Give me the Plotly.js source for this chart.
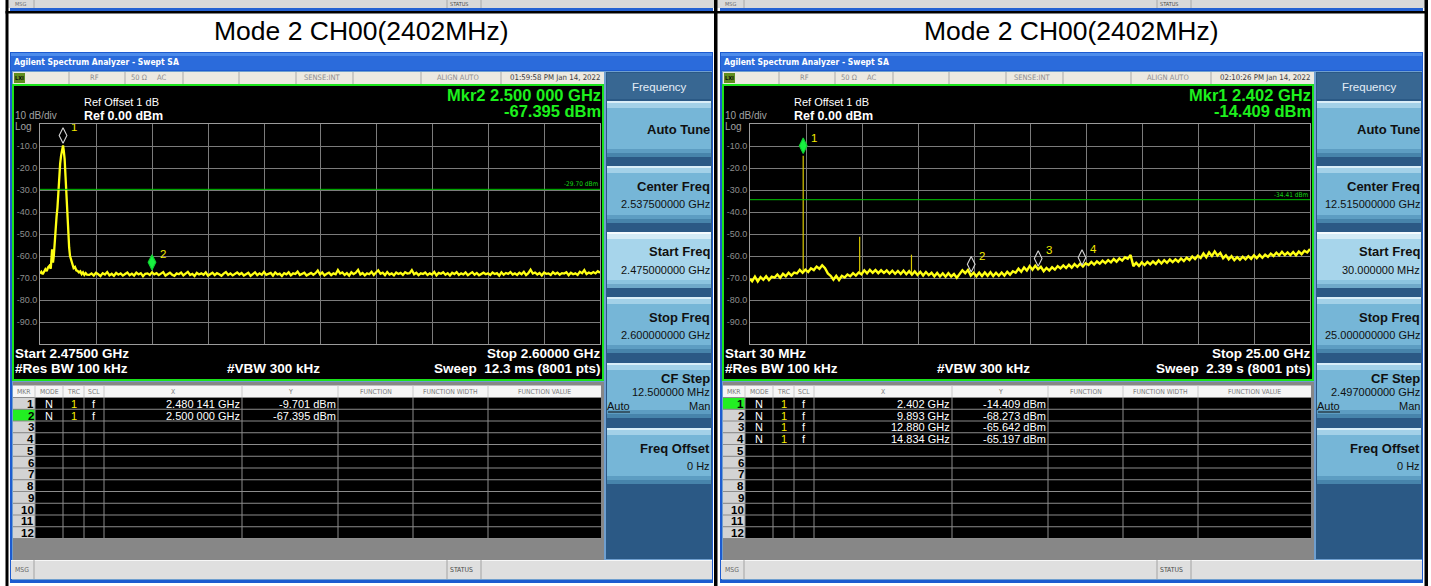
<!DOCTYPE html>
<html>
<head>
<meta charset="utf-8">
<script src="https://cdn.plot.ly/plotly-3.0.1.min.js"></script>
<style>
html,body{margin:0;padding:0;background:#ffffff;overflow:hidden;}
#chart{width:1431px;height:586px;}
</style>
</head>
<body>
<div id="chart"></div>
<script>
// ================= DATA =================
const panelTitles = ['Mode 2 CH00(2402MHz)', 'Mode 2 CH00(2402MHz)'];
const yTickValues = [-10, -20, -30, -40, -50, -60, -70, -80, -90];
const yTickLabels = ['-10.0', '-20.0', '-30.0', '-40.0', '-50.0', '-60.0', '-70.0', '-80.0', '-90.0'];
const refLevelDbm = 0, bottomLevelDbm = -100;

const leftStartGHz = 2.475, leftStopGHz = 2.600;
const rightStartGHz = 0.03, rightStopGHz = 25.0;

// Left sweep: carrier region
const leftPeakFreqGHz = [
2.475,2.4753,2.4756,2.4759,2.4762,2.4765,2.4768,2.4771,2.4774,2.4777,
2.4779,2.4781,2.4783,2.4785,2.4787,2.4789,2.4791,2.4793,2.4795,2.4797,
2.4799,2.480141,2.4803,2.4805,2.4807,2.4809,2.4811,2.4813,2.4815,2.4817,
2.4819,2.4821,2.4823,2.4825,2.4828,2.4831,2.4834,2.4837,2.484,2.4843,
2.4846,2.4849,2.4852,2.4855];
const leftPeakLevelDbm = [
-68.0,-67.2,-68.3,-66.8,-66.0,-66.9,-65.2,-64.5,-65.8,-57.0,
-63.0,-59.5,-52.0,-46.0,-42.0,-38.0,-30.0,-22.0,-18.0,-14.5,
-11.5,-9.701,-12.0,-16.0,-24.0,-33.0,-42.0,-50.0,-56.0,-60.0,
-61.5,-63.5,-64.0,-65.5,-65.0,-66.5,-66.8,-67.5,-67.0,-68.2,
-67.4,-68.6,-67.8,-68.5];
// Left sweep: noise floor
const leftFloorFreqGHz = [
2.486,2.4865,2.487,2.4875,2.488,2.4885,2.489,2.4895,2.49,2.4905,
2.491,2.4915,2.492,2.4925,2.493,2.4935,2.494,2.4945,2.495,2.4955,
2.496,2.4965,2.497,2.4975,2.498,2.4985,2.499,2.4995,2.5,2.5005,
2.501,2.5015,2.502,2.5025,2.503,2.5035,2.504,2.5045,2.505,2.5055,
2.506,2.5065,2.507,2.5075,2.508,2.5085,2.509,2.5095,2.51,2.5105,
2.511,2.5115,2.512,2.5125,2.513,2.5135,2.514,2.5145,2.515,2.5155,
2.516,2.5165,2.517,2.5175,2.518,2.5185,2.519,2.5195,2.52,2.5205,
2.521,2.5215,2.522,2.5225,2.523,2.5235,2.524,2.5245,2.525,2.5255,
2.526,2.5265,2.527,2.5275,2.528,2.5285,2.529,2.5295,2.53,2.5305,
2.531,2.5315,2.532,2.5325,2.533,2.5335,2.534,2.5345,2.535,2.5355,
2.536,2.5365,2.537,2.5375,2.538,2.5385,2.539,2.5395,2.54,2.5405,
2.541,2.5415,2.542,2.5425,2.543,2.5435,2.544,2.5445,2.545,2.5455,
2.546,2.5465,2.547,2.5475,2.548,2.5485,2.549,2.5495,2.55,2.5505,
2.551,2.5515,2.552,2.5525,2.553,2.5535,2.554,2.5545,2.555,2.5555,
2.556,2.5565,2.557,2.5575,2.558,2.5585,2.559,2.5595,2.56,2.5605,
2.561,2.5615,2.562,2.5625,2.563,2.5635,2.564,2.5645,2.565,2.5655,
2.566,2.5665,2.567,2.5675,2.568,2.5685,2.569,2.5695,2.57,2.5705,
2.571,2.5715,2.572,2.5725,2.573,2.5735,2.574,2.5745,2.575,2.5755,
2.576,2.5765,2.577,2.5775,2.578,2.5785,2.579,2.5795,2.58,2.5805,
2.581,2.5815,2.582,2.5825,2.583,2.5835,2.584,2.5845,2.585,2.5855,
2.586,2.5865,2.587,2.5875,2.588,2.5885,2.589,2.5895,2.59,2.5905,
2.591,2.5915,2.592,2.5925,2.593,2.5935,2.594,2.5945,2.595,2.5955,
2.596,2.5965,2.597,2.5975,2.598,2.5985,2.599,2.5995,2.6];
const leftFloorLevelDbm = [
-68.6,-67.9,-68.9,-67.6,-68.3,-69.1,-67.8,-68.4,-67.3,-68.8,
-68.1,-69.0,-67.7,-68.5,-67.9,-68.9,-68.2,-67.5,-68.7,-68.0,
-68.9,-67.6,-68.4,-67.8,-69.2,-68.1,-67.9,-68.6,-67.4,-68.3,
-67.8,-68.7,-68.0,-67.3,-68.9,-68.2,-67.6,-68.5,-69.0,-67.9,
-68.3,-67.5,-68.8,-68.0,-67.2,-68.6,-68.1,-69.1,-67.7,-68.4,
-67.9,-68.5,-67.4,-68.9,-68.2,-67.6,-68.7,-67.8,-68.3,-69.0,
-68.0,-67.3,-68.6,-67.9,-68.8,-68.2,-67.5,-68.4,-67.7,-68.9,
-68.1,-67.6,-69.0,-68.3,-67.4,-68.7,-67.9,-68.5,-67.2,-68.6,
-68.2,-67.7,-68.9,-67.5,-68.4,-68.0,-69.1,-67.8,-68.3,-67.4,
-68.8,-67.9,-68.2,-67.1,-68.6,-68.0,-67.6,-68.9,-68.3,-67.7,
-68.5,-67.8,-66.6,-68.4,-67.5,-68.8,-68.1,-67.6,-68.7,-67.9,
-68.3,-66.4,-68.0,-67.5,-68.6,-67.8,-68.9,-67.4,-68.2,-67.6,
-66.3,-68.4,-67.7,-68.8,-67.9,-68.3,-67.2,-68.6,-67.5,-66.5,
-68.1,-67.6,-68.7,-67.3,-68.4,-67.9,-68.8,-67.5,-68.2,-67.7,
-68.6,-67.4,-68.0,-67.8,-66.4,-68.3,-67.6,-68.7,-67.9,-68.2,
-67.5,-68.6,-67.9,-68.4,-67.2,-68.8,-67.7,-68.1,-67.4,-68.5,
-67.8,-68.9,-67.6,-68.2,-67.3,-68.6,-67.9,-68.4,-67.5,-68.7,
-68.0,-67.4,-68.5,-67.7,-68.8,-68.1,-67.6,-68.3,-67.9,-68.6,
-67.5,-68.2,-67.8,-68.9,-67.4,-68.5,-67.7,-68.1,-67.3,-68.4,
-67.9,-68.6,-67.6,-68.3,-67.2,-68.7,-67.8,-66.2,-68.0,-67.5,
-68.4,-67.7,-68.8,-67.5,-68.1,-67.9,-68.6,-67.3,-68.2,-67.6,
-68.5,-67.8,-68.0,-67.4,-68.7,-67.6,-68.3,-67.9,-68.6,-67.2,
-67.8,-66.4,-68.2,-67.5,-68.0,-67.3,-67.9,-66.9,-67.6];

// Right sweep (30 MHz - 25 GHz) noise floor
const rightFreqGHz = [
0.03,0.125,0.25,0.375,0.5,0.625,0.75,0.875,1,
1.125,1.25,1.375,1.5,1.625,1.75,1.875,2,
2.125,2.25,2.375,2.5,2.625,2.75,2.875,3,
3.125,3.25,3.375,3.5,3.625,3.75,3.875,4,
4.125,4.25,4.375,4.5,4.625,4.75,4.875,5,
5.125,5.25,5.375,5.5,5.625,5.75,5.875,6,
6.125,6.25,6.375,6.5,6.625,6.75,6.875,7,
7.125,7.25,7.375,7.5,7.625,7.75,7.875,8,
8.125,8.25,8.375,8.5,8.625,8.75,8.875,9,
9.125,9.25,9.375,9.5,9.625,9.75,9.875,10,
10.125,10.25,10.375,10.5,10.625,10.75,10.875,11,
11.125,11.25,11.375,11.5,11.625,11.75,11.875,12,
12.125,12.25,12.375,12.5,12.625,12.75,12.875,13,
13.125,13.25,13.375,13.5,13.625,13.75,13.875,14,
14.125,14.25,14.375,14.5,14.625,14.75,14.875,15,
15.125,15.25,15.375,15.5,15.625,15.75,15.875,16,
16.125,16.25,16.375,16.5,16.625,16.75,16.875,17,
17.125,17.25,17.375,17.5,17.625,17.75,17.875,18,
18.125,18.25,18.375,18.5,18.625,18.75,18.875,19,
19.125,19.25,19.375,19.5,19.625,19.75,19.875,20,
20.125,20.25,20.375,20.5,20.625,20.75,20.875,21,
21.125,21.25,21.375,21.5,21.625,21.75,21.875,22,
22.125,22.25,22.375,22.5,22.625,22.75,22.875,23,
23.125,23.25,23.375,23.5,23.625,23.75,23.875,24,
24.125,24.25,24.375,24.5,24.625,24.75,24.875,25];
const rightLevelDbm = [
-70.4,-71.5,-69.4,-71.6,-69.6,-70.8,-69.2,-70.9,-69.4,
-69.8,-68.4,-69.9,-68.1,-69.2,-67.6,-68.9,-67.5,
-67.9,-66.3,-67.6,-66.2,-67.3,-65.6,-66.4,-64.8,
-65.8,-64.2,-65.5,-67.9,-69.0,-70.8,-69.0,-70.9,
-69.0,-69.8,-68.4,-69.2,-67.8,-68.9,-67.5,-68.3,
-66.5,-67.9,-66.3,-67.6,-66.4,-67.8,-66.5,-67.7,
-66.6,-68.0,-66.7,-68.1,-66.8,-68.2,-66.7,-68.3,
-66.9,-68.5,-67.0,-68.6,-67.2,-68.9,-67.3,-68.7,
-67.6,-69.2,-67.7,-69.3,-67.9,-69.4,-67.8,-69.3,
-68.2,-69.9,-68.4,-66.5,-67.8,-66.3,-68.9,-67.6,
-69.2,-67.6,-69.1,-67.5,-69.0,-67.4,-69.1,-67.6,
-69.0,-67.5,-68.9,-67.2,-68.5,-66.9,-67.6,-65.8,
-67.2,-65.2,-66.6,-64.6,-66.2,-64.4,-66.0,-64.9,
-66.9,-65.4,-66.6,-65.1,-66.2,-64.6,-65.6,-64.3,
-65.5,-64.0,-65.3,-63.7,-64.9,-63.5,-64.8,-63.3,
-64.1,-62.7,-63.9,-62.5,-63.5,-62.1,-63.2,-61.9,
-62.9,-61.4,-62.6,-61.1,-62.1,-60.6,-61.2,-59.6,
-64.6,-63.1,-64.5,-62.9,-64.1,-62.7,-63.8,-62.5,
-63.6,-62.0,-63.4,-61.9,-63.1,-61.6,-62.8,-61.5,
-62.6,-61.1,-62.3,-60.8,-61.8,-60.2,-61.4,-59.9,
-60.9,-58.8,-60.6,-58.4,-60.0,-57.9,-59.8,-58.6,
-61.0,-59.7,-61.5,-60.1,-61.9,-60.5,-61.7,-60.3,
-61.5,-60.1,-61.3,-59.7,-61.0,-59.5,-60.8,-59.4,
-60.4,-58.9,-60.0,-58.5,-59.7,-58.1,-59.6,-58.4,
-59.6,-58.2,-59.7,-58.0,-59.2,-57.6,-58.4,-56.8];
// Right sweep: narrow spurs (single-bin lines)
const rightSpurFreqGHz = [2.402, 4.920, 7.230];
const rightSpurTopDbm = [-14.409, -51.2, -59.4];
const rightSpurFootDbm = [-66.8, -67.9, -67.8];

const leftMarkerFreqGHz = [2.480141, 2.500000];
const leftMarkerLevelDbm = [-9.701, -67.395];
const leftMarkerXText = ['2.480 141 GHz', '2.500 000 GHz'];
const leftMarkerYText = ['-9.701 dBm', '-67.395 dBm'];
const rightMarkerFreqGHz = [2.402, 9.893, 12.880, 14.834];
const rightMarkerLevelDbm = [-14.409, -68.273, -65.642, -65.197];
const rightMarkerXText = ['2.402 GHz', '9.893 GHz', '12.880 GHz', '14.834 GHz'];
const rightMarkerYText = ['-14.409 dBm', '-68.273 dBm', '-65.642 dBm', '-65.197 dBm'];

const leftDisplayLineDbm = -29.70, rightDisplayLineDbm = -34.41;
const leftDisplayLineText = '-29.70 dBm', rightDisplayLineText = '-34.41 dBm';

const softkeyLabels = ['Auto Tune', 'Center Freq', 'Start Freq', 'Stop Freq', 'CF Step', 'Freq Offset'];
const leftSoftkeyValues = ['', '2.537500000 GHz', '2.475000000 GHz', '2.600000000 GHz', '12.500000 MHz', '0 Hz'];
const rightSoftkeyValues = ['', '12.515000000 GHz', '30.000000 MHz', '25.000000000 GHz', '2.497000000 GHz', '0 Hz'];
const tableHeaders = ['MKR', 'MODE', 'TRC', 'SCL', 'X', 'Y', 'FUNCTION', 'FUNCTION WIDTH', 'FUNCTION VALUE'];

const windowsCfg = [
  { ox: 0, title: panelTitles[0], time: '01:59:58 PM Jan 14, 2022',
    mkr1: 'Mkr2 2.500 000 GHz', mkr2: '-67.395 dBm',
    start: 'Start 2.47500 GHz', stop: 'Stop 2.60000 GHz', sweep: 'Sweep  12.3 ms (8001 pts)',
    mx: leftMarkerXText, my: leftMarkerYText, active: 2, soft: leftSoftkeyValues },
  { ox: 710, title: panelTitles[1], time: '02:10:26 PM Jan 14, 2022',
    mkr1: 'Mkr1 2.402 GHz', mkr2: '-14.409 dBm',
    start: 'Start 30 MHz', stop: 'Stop 25.00 GHz', sweep: 'Sweep  2.39 s (8001 pts)',
    mx: rightMarkerXText, my: rightMarkerYText, active: 1, soft: rightSoftkeyValues }
];

// ================= DRAWING HELPERS =================
const W = 1431, H = 586;
const FONT = '"Liberation Sans", Arial, Helvetica, sans-serif';
const NARROW = '"DejaVu Sans Condensed", "Liberation Sans Narrow", "Liberation Sans", Arial, sans-serif';
const shapes = [], annotations = [];
const fx = x => x / W, fy = y => 1 - y / H;

function rect(x0, y0, x1, y1, fill, lineColor, lineWidth) {
  shapes.push({type: 'rect', xref: 'paper', yref: 'paper', layer: 'below',
    x0: fx(x0), x1: fx(x1), y0: fy(y1), y1: fy(y0),
    fillcolor: fill || 'rgba(0,0,0,0)',
    line: {color: lineColor || 'rgba(0,0,0,0)', width: lineWidth || 0}});
}
function seg(x0, y0, x1, y1, color, width) {
  shapes.push({type: 'line', xref: 'paper', yref: 'paper', layer: 'below',
    x0: fx(x0), x1: fx(x1), y0: fy(y0), y1: fy(y1), line: {color: color, width: width || 1}});
}
function txt(x, y, text, o) {
  o = o || {};
  annotations.push({xref: 'paper', yref: 'paper', x: fx(x), y: fy(y), text: text, showarrow: false,
    xanchor: o.anchor || 'left', yanchor: 'middle', borderpad: 0, borderwidth: 0,
    font: {family: o.family || FONT, size: o.size || 11, color: o.color || '#000000'}});
}

// ---- top strip: bottom of the previous screenshots ----
rect(8, 0, 1425, 8, '#d9d9d9');
[[10, 713], [720, 1423]].forEach(([a, b]) => {
  seg(a + 24, 0, a + 24, 8, '#a8a8a8', 1);
  seg(a + 437, 0, a + 437, 8, '#a8a8a8', 1);
  seg(a + 471, 0, a + 471, 8, '#a8a8a8', 1);
  txt(a + 5, 4, 'MSG', {size: 5.5, color: '#6a6a6a', family: NARROW});
  txt(a + 440, 4, 'STATUS', {size: 5.5, color: '#4a4a4a', family: NARROW});
  rect(a, 8, b, 11, '#2461d2');
});

function button(x0, y0, x1, y1, sel) {
  rect(x0, y0, x1, y1, sel ? '#a7d5eb' : '#76b6d7');
  rect(x0, y0, x1, y0 + 2, sel ? '#f4fbfe' : '#d9eef8');
  rect(x0, y0 + 2, x1, y0 + 7, sel ? '#d3ebf6' : '#a3d1e8');
  rect(x0, y1 - 8, x1, y1 - 4, sel ? '#8cc4df' : '#5d9dc2');
  rect(x0, y1 - 4, x1, y1, sel ? '#6fa9c9' : '#4784ab');
}

function drawWindow(w) {
  const X = v => v + w.ox;
  txt(X(361), 31, w.title, {anchor: 'center', size: 26.5, color: '#000000'});
  // window frame + title bar
  rect(X(10), 52, X(713), 583, '#1d5bcf');
  rect(X(11), 53, X(712), 70, '#2b6bdb');
  rect(X(11), 53, X(712), 56, '#4d8ceb');
  txt(X(14), 62, '<b>Agilent Spectrum Analyzer - Swept SA</b>', {size: 8.5, color: '#ffffff', family: NARROW});
  rect(X(12), 71, X(712), 580, '#6f9fcf');
  // status row
  rect(X(13), 72, X(604), 84, '#ece9e1');
  [69, 125, 183, 239, 296, 353, 421, 501].forEach(d => seg(X(d), 72, X(d), 84, '#a9a9a9', 1));
  rect(X(14), 73, X(25), 83, '#5f8d1f');
  txt(X(19.5), 78, '<b>LXI</b>', {anchor: 'center', size: 5.5, color: '#0d0d0d', family: NARROW});
  txt(X(94), 78, 'RF', {anchor: 'center', size: 7.5, color: '#8d8d8d', family: NARROW});
  txt(X(139), 78, '50 Ω', {anchor: 'center', size: 7.5, color: '#8d8d8d', family: NARROW});
  txt(X(161), 78, 'AC', {anchor: 'center', size: 7.5, color: '#8d8d8d', family: NARROW});
  txt(X(322), 78, 'SENSE:INT', {anchor: 'center', size: 7.5, color: '#8d8d8d', family: NARROW});
  txt(X(458), 78, 'ALIGN AUTO', {anchor: 'center', size: 7.5, color: '#8d8d8d', family: NARROW});
  txt(X(601), 78, w.time, {anchor: 'right', size: 7.8, color: '#3c3c3c', family: NARROW});
  // measurement display area
  rect(X(13), 85, X(603), 380, '#000000', '#1be41b', 2);
  txt(X(84), 102, 'Ref Offset 1 dB', {size: 11, color: '#ffffff'});
  txt(X(15), 115, '10 dB/div', {size: 10, color: '#a2a2a2'});
  txt(X(84), 115.5, '<b>Ref 0.00 dBm</b>', {size: 12.5, color: '#ffffff'});
  txt(X(15), 126.5, 'Log', {size: 10, color: '#a2a2a2'});
  txt(X(601), 95, '<b>' + w.mkr1 + '</b>', {anchor: 'right', size: 16.5, color: '#1df01d'});
  txt(X(601), 111, '<b>' + w.mkr2 + '</b>', {anchor: 'right', size: 16.5, color: '#1df01d'});
  txt(X(15), 353, '<b>' + w.start + '</b>', {size: 13.5, color: '#ffffff'});
  txt(X(601), 353, '<b>' + w.stop + '</b>', {anchor: 'right', size: 13.5, color: '#ffffff'});
  txt(X(15), 368, '<b>#Res BW 100 kHz</b>', {size: 13.5, color: '#ffffff'});
  txt(X(227), 368, '<b>#VBW 300 kHz</b>', {size: 13.5, color: '#ffffff'});
  txt(X(601), 368, '<b>' + w.sweep + '</b>', {anchor: 'right', size: 13.5, color: '#ffffff'});
  // marker table
  const cols = [13, 35, 63, 84, 104, 242, 338, 413, 488, 601];
  const R0 = 397.5, RH = 11.75, NR = 12, RB = R0 + NR * RH;
  rect(X(13), 382, X(604), 560, '#878787');
  rect(X(13), 385.5, X(601), R0, '#f5f5f5');
  tableHeaders.forEach((h, c) => {
    txt(X((cols[c] + cols[c + 1]) / 2), 391.5, h, {anchor: 'center', size: 6.8, color: '#7a7a7a', family: NARROW});
  });
  rect(X(13), R0, X(601), RB, '#000000');
  for (let r = 0; r < NR; r++) {
    const y0 = R0 + r * RH;
    rect(X(13), y0, X(35), y0 + RH, (r + 1 === w.active) ? '#22ee22' : '#d3d3d3');
    seg(X(13), y0, X(601), y0, '#8c8c8c', 1);
    txt(X(33.5), y0 + RH / 2 + 0.5, '<b>' + (r + 1) + '</b>', {anchor: 'right', size: 11.5, color: '#000000'});
  }
  seg(X(13), RB, X(601), RB, '#8c8c8c', 1);
  for (let c = 1; c < cols.length - 1; c++) {
    seg(X(cols[c]), 385.5, X(cols[c]), R0, '#c9c9c9', 1);
    seg(X(cols[c]), R0, X(cols[c]), RB, '#8c8c8c', 1);
  }
  w.mx.forEach((xs, i) => {
    const yc = R0 + i * RH + RH / 2 + 0.5;
    txt(X(49), yc, 'N', {anchor: 'center', size: 11, color: '#ffffff'});
    txt(X(73.5), yc, '1', {anchor: 'center', size: 11, color: '#f5ee00'});
    txt(X(94), yc, 'f', {anchor: 'center', size: 11, color: '#ffffff'});
    txt(X(240), yc, xs, {anchor: 'right', size: 11, color: '#ffffff'});
    txt(X(336), yc, w.my[i], {anchor: 'right', size: 11, color: '#ffffff'});
  });
  // MSG / STATUS bar
  rect(X(11), 560, X(712), 579, '#dfdfdf');
  seg(X(11), 560.5, X(712), 560.5, '#f7f7f7', 1);
  seg(X(34), 560, X(34), 579, '#a3a3a3', 1);
  seg(X(447), 560, X(447), 579, '#a3a3a3', 1);
  seg(X(481), 560, X(481), 579, '#a3a3a3', 1);
  txt(X(15), 569.5, 'MSG', {size: 6.8, color: '#6a6a6a', family: NARROW});
  txt(X(450), 569.5, 'STATUS', {size: 6.8, color: '#4a4a4a', family: NARROW});
  // softkey panel
  rect(X(606), 72, X(712), 559, '#2b5985');
  rect(X(607), 73, X(711), 99, '#386792');
  txt(X(659), 87, 'Frequency', {anchor: 'center', size: 11.5, color: '#e4edf6'});
  const by = [[101, 157], [166, 223], [232, 288], [297, 353], [363, 418], [428, 484]];
  by.forEach(([y0, y1], i) => {
    button(X(607), y0, X(711), y1, i === 2);
    const lab = '<b>' + softkeyLabels[i] + '</b>';
    if (i === 0) {
      txt(X(710), y0 + 28, lab, {anchor: 'right', size: 13, color: '#101010'});
    } else if (i === 4) {
      txt(X(710), y0 + 15, lab, {anchor: 'right', size: 13, color: '#101010'});
      txt(X(710), y0 + 29, w.soft[i], {anchor: 'right', size: 11, color: '#101010'});
      txt(X(607), y0 + 43, 'Auto', {size: 11, color: '#101010'});
      seg(X(608), y0 + 49, X(630), y0 + 49, '#101010', 1);
      txt(X(710), y0 + 43, 'Man', {anchor: 'right', size: 11, color: '#101010'});
    } else {
      txt(X(710), y0 + 20, lab, {anchor: 'right', size: 13, color: '#101010'});
      txt(X(710), y0 + 38, w.soft[i], {anchor: 'right', size: 11, color: '#101010'});
    }
  });
}
windowsCfg.forEach(drawWindow);

// black separators of the outer table
rect(5.5, 0, 8.5, 586, '#000000');
rect(714, 0, 717.5, 586, '#000000');
rect(1424.5, 0, 1428, 586, '#000000');
rect(5.5, 11, 1428, 13.5, '#000000');

// display lines (threshold) with their labels, tied to the level axes
[[leftDisplayLineDbm, leftDisplayLineText, 'x', 'y'], [rightDisplayLineDbm, rightDisplayLineText, 'x2', 'y2']].forEach(([v, t, xa, ya]) => {
  shapes.push({type: 'line', xref: xa + ' domain', yref: ya, x0: 0, x1: 1, y0: v, y1: v,
    layer: 'above', line: {color: '#00c400', width: 1}});
  annotations.push({xref: xa + ' domain', yref: ya, x: 0.998, y: v, xanchor: 'right', yanchor: 'bottom',
    text: t, showarrow: false, borderpad: 0, font: {family: NARROW, size: 6.5, color: '#14d414'}});
});

// ================= AXES =================
function freqAxis(domain, start, stop, anchor) {
  return {domain: domain, range: [start, stop], anchor: anchor, tickmode: 'linear', tick0: start,
    dtick: (stop - start) / 10, showticklabels: false, ticks: '', showgrid: true,
    gridcolor: '#7b7b7b', gridwidth: 1, zeroline: false, showline: true, mirror: true,
    linecolor: '#9b9b9b', linewidth: 1, fixedrange: true};
}
function levelAxis(domain, anchor) {
  return {domain: domain, range: [bottomLevelDbm, refLevelDbm], anchor: anchor, tickmode: 'array',
    tickvals: yTickValues, ticktext: yTickLabels, ticks: '',
    tickfont: {family: FONT, size: 9, color: '#8e8e8e'}, showgrid: true, gridcolor: '#7b7b7b',
    gridwidth: 1, zeroline: false, showline: true, mirror: true, linecolor: '#9b9b9b',
    linewidth: 1, fixedrange: true};
}
const gy = [fy(344), fy(124)];

// ================= TRACES =================
const DIAMOND_LIFT_DB = 4.5, LABEL_LIFT_DB = 3.2;
function markerTrace(fr, lv, active, xa, ya) {
  const on = fr.map((_, i) => i + 1 === active);
  return {type: 'scatter', mode: 'markers', x: fr, y: lv.map(v => v + DIAMOND_LIFT_DB),
    xaxis: xa, yaxis: ya, cliponaxis: false, hoverinfo: 'skip',
    marker: {symbol: on.map(a => a ? 'diamond-tall' : 'diamond-tall-open'), size: 11,
      color: on.map(a => a ? '#18f040' : '#d4d4d4'),
      line: {color: on.map(a => a ? '#0fd030' : '#d4d4d4'), width: 1.1}}};
}
function markerLabelTrace(fr, lv, xa, ya) {
  return {type: 'scatter', mode: 'markers+text', x: fr, y: lv.map(v => v + DIAMOND_LIFT_DB + LABEL_LIFT_DB),
    xaxis: xa, yaxis: ya, cliponaxis: false, hoverinfo: 'skip',
    text: fr.map((_, i) => String(i + 1)), textposition: 'middle right',
    textfont: {family: FONT, size: 11.5, color: '#f2ea00'},
    marker: {size: 11, opacity: 0}};
}
const spurX = [], spurY = [];
rightSpurFreqGHz.forEach((f, i) => { spurX.push(f, f, null); spurY.push(rightSpurFootDbm[i], rightSpurTopDbm[i], null); });

const traces = [
  {type: 'scatter', mode: 'lines', x: leftPeakFreqGHz.concat(leftFloorFreqGHz),
   y: leftPeakLevelDbm.concat(leftFloorLevelDbm), xaxis: 'x', yaxis: 'y',
   line: {color: '#ffff14', width: 2.3}, hoverinfo: 'skip'},
  {type: 'scatter', mode: 'lines', x: spurX, y: spurY, xaxis: 'x2', yaxis: 'y2',
   line: {color: '#d8c800', width: 1.2}, hoverinfo: 'skip', connectgaps: false},
  {type: 'scatter', mode: 'lines', x: rightFreqGHz, y: rightLevelDbm, xaxis: 'x2', yaxis: 'y2',
   line: {color: '#ffff14', width: 2.4}, hoverinfo: 'skip'},
  markerTrace(leftMarkerFreqGHz, leftMarkerLevelDbm, 2, 'x', 'y'),
  markerTrace(rightMarkerFreqGHz, rightMarkerLevelDbm, 1, 'x2', 'y2'),
  markerLabelTrace(leftMarkerFreqGHz, leftMarkerLevelDbm, 'x', 'y'),
  markerLabelTrace(rightMarkerFreqGHz, rightMarkerLevelDbm, 'x2', 'y2')
];

const layout = {
  width: W, height: H, autosize: false, margin: {l: 0, r: 0, t: 0, b: 0, pad: 0},
  paper_bgcolor: '#ffffff', plot_bgcolor: '#000000', showlegend: false,
  xaxis: freqAxis([fx(40), fx(600)], leftStartGHz, leftStopGHz, 'y'),
  yaxis: levelAxis(gy, 'x'),
  xaxis2: freqAxis([fx(750), fx(1310)], rightStartGHz, rightStopGHz, 'y2'),
  yaxis2: levelAxis(gy, 'x2'),
  shapes: shapes, annotations: annotations
};

Plotly.newPlot('chart', traces, layout, {staticPlot: true, displayModeBar: false});
</script>
</body>
</html>
